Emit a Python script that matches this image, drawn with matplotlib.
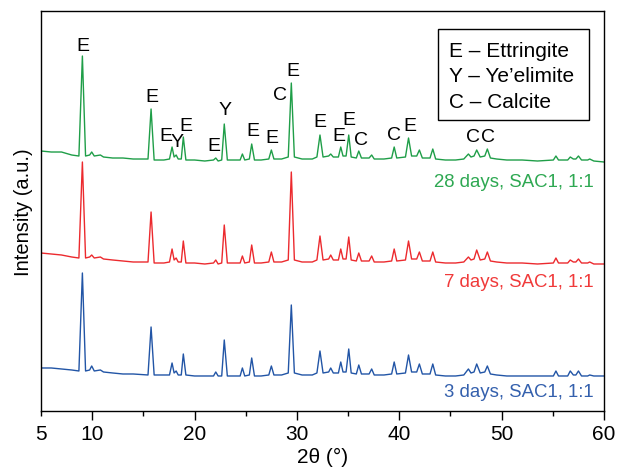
import matplotlib
matplotlib.use("Agg")
import matplotlib.pyplot as plt
from matplotlib.patches import Rectangle

plt.rcParams['font.family'] = ['Liberation Sans', 'DejaVu Sans']

# 2theta grid shared by the three patterns
two_theta = [5.0, 6.0, 7.0, 8.0, 8.7, 9.04, 9.35, 9.75, 9.95, 10.2,
             10.8, 11.1, 12.0, 13.0, 14.0, 15.45, 15.75, 16.05, 17.0, 17.55,
             17.8, 18.0, 18.2, 18.4, 18.7, 18.9, 19.15, 20.0, 21.0, 21.85,
             22.07, 22.3, 22.65, 22.9, 23.2, 24.0, 24.45, 24.67, 24.9, 25.35,
             25.58, 25.85, 26.5, 27.25, 27.5, 27.75, 28.5, 29.15, 29.45, 29.75,
             30.5, 31.5, 31.95, 32.25, 32.55, 33.1, 33.3, 33.55, 34.05, 34.28,
             34.5, 34.8, 35.06, 35.3, 35.8, 36.04, 36.3, 37.05, 37.3, 37.55,
             38.5, 39.25, 39.5, 39.75, 40.6, 40.9, 41.2, 41.7, 41.96, 42.25,
             43.0, 43.27, 43.55, 44.5, 45.5, 46.3, 46.75, 47.0, 47.3, 47.56,
             47.9, 48.35, 48.6, 48.9, 49.5, 50.5, 52.0, 53.5, 55.05, 55.3,
             55.55, 56.45, 56.7, 57.0, 57.25, 57.5, 57.8, 58.4, 58.6, 59.0,
             60.0]

int_28d = [18, 17, 17, 14, 13, 113, 13, 14, 17, 13,
           14, 12, 11, 11, 10, 10, 60, 9, 9, 10,
           22, 12, 14, 10, 10, 32, 9, 9, 8, 9,
           11, 8, 9, 45, 9, 9, 9, 15, 9, 10,
           25, 9, 9, 10, 19, 10, 10, 12, 86, 12,
           10, 10, 12, 34, 12, 13, 15, 12, 12, 22,
           13, 13, 34, 12, 11, 18, 11, 11, 14, 10,
           10, 11, 22, 11, 12, 31, 13, 13, 19, 11,
           11, 20, 10, 9, 9, 10, 15, 12, 13, 19,
           12, 13, 20, 11, 10, 9, 9, 8, 9, 13,
           9, 9, 12, 10, 10, 13, 9, 9, 10, 8,
           7]

int_7d = [21, 20, 19, 17, 16, 112, 16, 17, 19, 16,
          17, 15, 14, 13, 12, 12, 62, 11, 11, 12,
          25, 14, 16, 12, 12, 33, 11, 11, 10, 11,
          14, 10, 11, 49, 11, 11, 11, 18, 11, 12,
          29, 11, 11, 12, 22, 12, 12, 14, 102, 14,
          12, 12, 14, 38, 14, 15, 19, 14, 14, 25,
          15, 15, 37, 14, 13, 21, 13, 13, 18, 12,
          12, 13, 25, 13, 14, 33, 15, 15, 22, 13,
          13, 22, 12, 11, 11, 12, 17, 14, 15, 24,
          14, 15, 22, 13, 12, 11, 11, 10, 11, 16,
          11, 11, 14, 12, 12, 15, 11, 11, 12, 10,
          10]

int_3d = [18, 18, 17, 16, 15, 113, 15, 16, 20, 15,
          16, 14, 13, 12, 12, 11, 59, 11, 11, 11,
          23, 13, 15, 11, 11, 32, 11, 10, 10, 10,
          14, 10, 10, 46, 10, 10, 10, 18, 10, 11,
          28, 10, 10, 11, 20, 11, 11, 13, 81, 13,
          11, 11, 13, 35, 13, 14, 18, 13, 13, 24,
          14, 14, 37, 13, 12, 21, 12, 12, 17, 11,
          11, 12, 24, 12, 13, 31, 14, 14, 22, 12,
          12, 22, 11, 10, 10, 11, 17, 13, 14, 22,
          13, 14, 20, 12, 11, 10, 10, 10, 10, 15,
          10, 10, 15, 11, 11, 15, 10, 10, 11, 10,
          10]

series_names = ['28 days, SAC1, 1:1', '7 days, SAC1, 1:1', '3 days, SAC1, 1:1']

# phase labels on the 28-day pattern: (letter, 2theta, height)
peak_letters = ['E', 'E', 'E', 'Y', 'E', 'E', 'Y', 'E', 'E', 'C', 'E',
                'E', 'E', 'E', 'C', 'C', 'E', 'C', 'C']
peak_pos = [9.13, 15.8, 17.2, 18.3, 19.13, 21.87, 22.98, 25.68, 27.54, 28.35, 29.65,
            32.26, 34.05, 35.09, 36.23, 39.52, 41.05, 47.24, 48.7]
peak_height = [124, 73, 34, 28, 44, 24, 60, 39, 32, 75, 99,
               48, 34, 50, 30, 35, 44, 33, 33]

legend_lines = ['E – Ettringite', 'Y – Ye’elimite', 'C – Calcite']

colors = ['#1f9e48', '#ec2a2e', '#2255a6']
text_colors = ['#2ea852', '#f03a3a', '#3460ad']
offsets = [242, 137, 25]

fig = plt.figure(figsize=(6.17, 4.77), dpi=100)
ax = fig.add_axes([0.0665, 0.1363, 0.9125, 0.8385])

for ys, c, off in zip([int_28d, int_7d, int_3d], colors, offsets):
    ax.plot(two_theta, [v + off for v in ys], color=c, lw=1.0)

# series captions
label_y = [230, 129, 19]
for name, tc, ly in zip(series_names, text_colors, label_y):
    ax.text(59.0, ly, name, color=tc, fontsize=13.4, ha='right', va='center')

# peak letters
for s, px, h in zip(peak_letters, peak_pos, peak_height):
    ax.text(px, h + offsets[0], s, fontsize=14, ha='center', va='center', color='black')

# phase key box
ax.add_patch(Rectangle((43.78, 291), 14.76, 91, fill=False, ec='black', lw=1.0))
for i, t in enumerate(legend_lines):
    ax.text(44.86, 361 - i * 25.5, t, fontsize=15, ha='left', va='center')

ax.set_xlim(5, 60)
ax.set_ylim(0, 400)
ax.set_yticks([])
ax.set_xticks([5, 10, 20, 30, 40, 50, 60])
ax.set_xticks([15, 25, 35, 45, 55], minor=True)
ax.tick_params(axis='x', which='major', direction='out', length=6.5, width=1.0, labelsize=15, pad=3)
ax.tick_params(axis='x', which='minor', direction='out', length=3.3, width=1.0)
ax.xaxis.get_major_ticks()[0].tick1line.set_markersize(3.3)
for sp in ax.spines.values():
    sp.set_linewidth(1.0)

ax.set_xlabel('2θ (°)', fontsize=15, labelpad=3)
ax.set_ylabel('Intensity (a.u.)', fontsize=14.5, labelpad=6)

fig.savefig('out.png', dpi=100)
